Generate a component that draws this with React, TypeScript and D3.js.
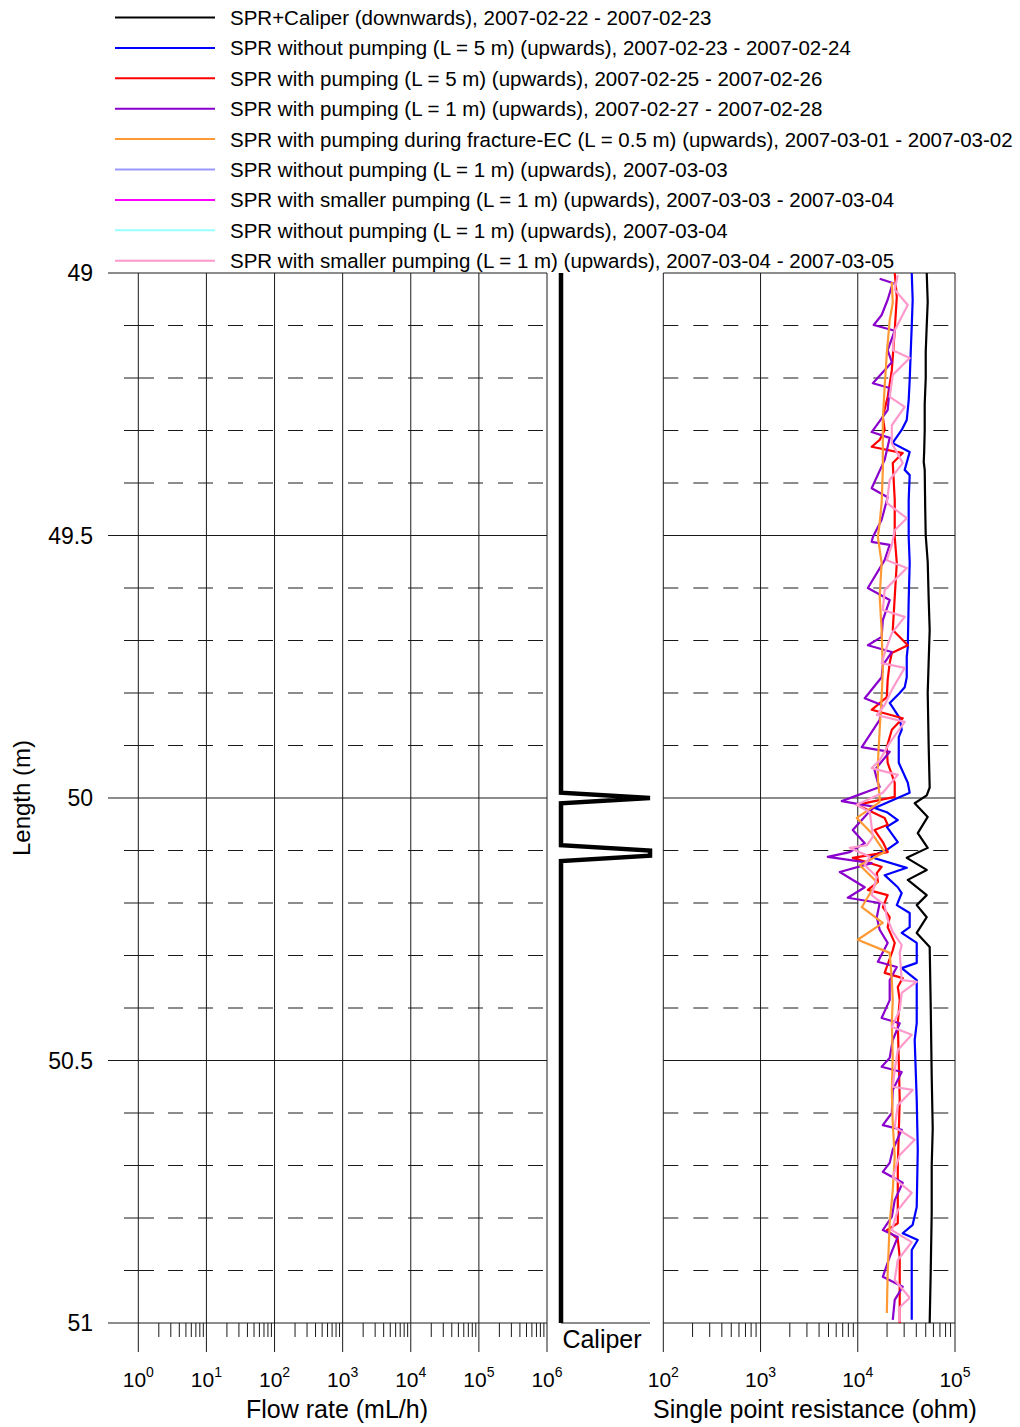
import React from "react";
import * as d3 from "d3";

// legend
const seriesNames = [
  "SPR+Caliper (downwards), 2007-02-22 - 2007-02-23",
  "SPR without pumping (L = 5 m) (upwards), 2007-02-23 - 2007-02-24",
  "SPR with pumping (L = 5 m) (upwards), 2007-02-25 - 2007-02-26",
  "SPR with pumping (L = 1 m) (upwards), 2007-02-27 - 2007-02-28",
  "SPR with pumping during fracture-EC (L = 0.5 m) (upwards), 2007-03-01 - 2007-03-02",
  "SPR without pumping (L = 1 m) (upwards), 2007-03-03",
  "SPR with smaller pumping (L = 1 m) (upwards), 2007-03-03 - 2007-03-04",
  "SPR without pumping (L = 1 m) (upwards), 2007-03-04",
  "SPR with smaller pumping (L = 1 m) (upwards), 2007-03-04 - 2007-03-05",
];
const seriesColors = [
  "#000000", "#0000ff", "#ff0000", "#8a00cc", "#ff9933",
  "#9999ff", "#ff00ff", "#99ffff", "#ff99cc",
];

// [depth (m), single point resistance (ohm)]
const sprCaliper: [number, number][] = [
  [49.0, 51200], [49.055, 52400], [49.1, 51200], [49.15, 50000], [49.2, 50000], [49.25, 48800],
  [49.3, 48800], [49.34, 48200], [49.36, 47700], [49.375, 48800], [49.45, 49400], [49.5, 50000],
  [49.55, 52400], [49.62, 53600], [49.68, 54900], [49.74, 53600], [49.8, 52400], [49.9, 53600],
  [49.98, 54900], [49.995, 51200], [50.01, 38500], [50.036, 52400], [50.067, 41400], [50.095, 52400],
  [50.114, 31900], [50.137, 51200], [50.156, 32700], [50.185, 51200], [50.204, 40400], [50.227, 51200],
  [50.257, 40400], [50.284, 54900], [50.4, 56300], [50.53, 57600], [50.63, 59000], [50.7, 57600],
  [50.79, 57600], [50.9, 56300], [51.0, 54900],
];
const sprNoPump5m: [number, number][] = [
  [49.0, 35900], [49.051, 36700], [49.101, 35900], [49.147, 35100], [49.204, 34200], [49.242, 33400],
  [49.28, 31900], [49.299, 28300], [49.318, 24000], [49.324, 22900], [49.341, 34200], [49.375, 30400],
  [49.385, 34200], [49.432, 33400], [49.503, 33400], [49.552, 34200], [49.623, 33400], [49.712, 32700],
  [49.731, 31900], [49.77, 31900], [49.789, 30400], [49.8, 27000], [49.819, 21300], [49.848, 27000],
  [49.87, 28300], [49.884, 26400], [49.933, 26400], [49.971, 32700], [49.99, 34200], [50.019, 14900],
  [50.027, 19900], [50.042, 25800], [50.055, 19900], [50.084, 25800], [50.099, 19900], [50.112, 13300],
  [50.133, 31900], [50.147, 18900], [50.17, 25800], [50.181, 28300], [50.204, 25200], [50.219, 34200],
  [50.246, 34200], [50.257, 28300], [50.276, 40400], [50.314, 40400], [50.324, 28300], [50.347, 40400],
  [50.385, 40400], [50.429, 40400], [50.461, 38500], [50.575, 40400], [50.67, 41400], [50.779, 40400],
  [50.813, 36700], [50.829, 29000], [50.842, 41400], [50.861, 35900], [50.937, 35900], [50.994, 35900],
];
const sprPump5m: [number, number][] = [
  [49.0, 24000], [49.046, 25200], [49.109, 24000], [49.185, 22400], [49.236, 20300], [49.274, 18100],
  [49.299, 18900], [49.318, 16800], [49.331, 13900], [49.343, 29000], [49.362, 22900], [49.432, 24000],
  [49.503, 24000], [49.552, 25200], [49.617, 24000], [49.68, 22900], [49.709, 32700], [49.724, 22400],
  [49.743, 21300], [49.775, 20300], [49.808, 19900], [49.832, 13900], [49.848, 29000], [49.87, 22400],
  [49.903, 19900], [49.933, 20300], [49.971, 24000], [49.998, 24000], [50.013, 9770], [50.038, 18900],
  [50.051, 20300], [50.061, 14900], [50.084, 18100], [50.103, 20300], [50.114, 8880], [50.131, 17600],
  [50.143, 15700], [50.16, 16100], [50.175, 12700], [50.185, 20300], [50.208, 18100], [50.227, 21300],
  [50.246, 20300], [50.276, 24000], [50.29, 22900], [50.333, 18900], [50.343, 29000], [50.36, 25800],
  [50.385, 27000], [50.429, 25800], [50.5, 26400], [50.575, 27000], [50.7, 25800], [50.81, 25800],
  [50.823, 19900], [50.84, 25800], [50.874, 27000], [51.0, 27000],
];
const sprPump1m: [number, number][] = [
  [49.011, 16800], [49.019, 22900], [49.051, 20300], [49.08, 17600], [49.099, 14600], [49.11, 24000],
  [49.147, 20300], [49.17, 22400], [49.21, 14300], [49.219, 21300], [49.261, 20300], [49.303, 13900],
  [49.314, 21300], [49.356, 18900], [49.41, 13900], [49.427, 20300], [49.47, 17600], [49.503, 14300],
  [49.512, 13900], [49.518, 21300], [49.547, 18900], [49.6, 12700], [49.623, 21300], [49.661, 18100],
  [49.693, 17600], [49.709, 12700], [49.722, 22400], [49.747, 18100], [49.77, 17600], [49.81, 11800],
  [49.823, 17600], [49.851, 16800], [49.903, 11000], [49.912, 21300], [49.947, 14900], [49.971, 16100],
  [49.979, 16800], [50.006, 6850], [50.017, 14900], [50.029, 12700], [50.061, 8880], [50.086, 11800],
  [50.103, 8280], [50.112, 4910], [50.124, 13900], [50.141, 6530], [50.17, 11800], [50.19, 7890],
  [50.2, 16800], [50.227, 15700], [50.251, 16800], [50.276, 20300], [50.312, 16100], [50.322, 25200],
  [50.347, 21300], [50.385, 21300], [50.419, 17600], [50.429, 27000], [50.461, 22900], [50.495, 21300],
  [50.512, 17600], [50.522, 28300], [50.556, 22900], [50.6, 22400], [50.623, 18100], [50.632, 28300],
  [50.67, 22900], [50.695, 21300], [50.712, 18100], [50.733, 29000], [50.766, 24000], [50.798, 22400],
  [50.823, 18100], [50.836, 25800], [50.874, 21300], [50.912, 18100], [50.931, 29000], [50.956, 24000],
  [50.994, 22900],
];
const sprFractureEC: [number, number][] = [
  [49.017, 22400], [49.057, 22900], [49.09, 21300], [49.152, 19900], [49.217, 18900], [49.28, 18100],
  [49.375, 18100], [49.438, 17600], [49.476, 16800], [49.503, 16100], [49.552, 17600], [49.617, 16800],
  [49.68, 17600], [49.756, 18100], [49.808, 17600], [49.87, 16800], [49.933, 16100], [49.966, 16100],
  [49.998, 16800], [50.008, 16800], [50.038, 9770], [50.067, 13900], [50.103, 18900], [50.128, 10500],
  [50.16, 15700], [50.208, 11000], [50.238, 18100], [50.27, 10000], [50.295, 21300], [50.347, 22400],
  [50.385, 22900], [50.429, 22400], [50.493, 22900], [50.556, 22400], [50.619, 22900], [50.684, 24000],
  [50.747, 22900], [50.81, 21300], [50.905, 20300], [50.981, 19900],
];
const sprNoPump1mA: [number, number][] = [];
const sprSmallPump1mA: [number, number][] = [];
const sprNoPump1mB: [number, number][] = [];
const sprSmallPump1mB: [number, number][] = [
  [49.004, 25800], [49.032, 24000], [49.061, 32700], [49.109, 24000], [49.147, 22900], [49.162, 34200],
  [49.194, 22900], [49.236, 21300], [49.255, 30400], [49.29, 22400], [49.324, 22400], [49.362, 29000],
  [49.394, 21300], [49.438, 19900], [49.467, 31900], [49.49, 24000], [49.518, 22400], [49.547, 19900],
  [49.562, 31900], [49.604, 18900], [49.642, 18100], [49.655, 30400], [49.686, 22400], [49.718, 19400],
  [49.743, 17600], [49.752, 30400], [49.794, 22400], [49.823, 18900], [49.842, 15700], [49.855, 30400],
  [49.895, 21300], [49.928, 16800], [49.943, 13900], [49.956, 25800], [49.99, 18100], [50.013, 9770],
  [50.027, 13300], [50.074, 14300], [50.09, 12400], [50.095, 8280], [50.112, 13300], [50.128, 11800],
  [50.15, 15700], [50.185, 13900], [50.204, 18900], [50.227, 19900], [50.255, 22900], [50.28, 28300],
  [50.295, 27000], [50.347, 28300], [50.35, 40400], [50.371, 28300], [50.404, 27000], [50.436, 22400],
  [50.451, 35900], [50.48, 25800], [50.518, 24000], [50.55, 22900], [50.556, 36700], [50.585, 25800],
  [50.627, 24000], [50.651, 38500], [50.68, 27000], [50.722, 22900], [50.752, 35900], [50.785, 25800],
  [50.823, 22400], [50.846, 35900], [50.88, 25800], [50.918, 24000], [50.952, 34200], [50.97, 27000],
  [50.998, 27000],
];
const allSeries = [
  sprCaliper, sprNoPump5m, sprPump5m, sprPump1m, sprFractureEC,
  sprNoPump1mA, sprSmallPump1mA, sprNoPump1mB, sprSmallPump1mB,
];

// [depth (m), caliper (mm)]
const caliper: [number, number][] = [
  [49.0, 76.2], [49.99, 76.2], [50.0, 77.4], [50.01, 76.2], [50.09, 76.2],
  [50.1, 77.4], [50.11, 77.4], [50.12, 76.2], [51.0, 76.2],
];

const depthTicks = [49, 49.5, 50, 50.5, 51];
const depthMinor = [49.1, 49.2, 49.3, 49.4, 49.6, 49.7, 49.8, 49.9, 50.1, 50.2, 50.3, 50.4, 50.6, 50.7, 50.8, 50.9];
const flowExps = [0, 1, 2, 3, 4, 5, 6];
const sprExps = [2, 3, 4, 5];

const FONT = "'Liberation Sans', Arial, sans-serif";
const GRID = "#1a1a1a";

const minorTicks = (exps: number[]) => {
  const out: number[] = [];
  exps.slice(0, -1).forEach((e) => {
    for (let k = 2; k <= 9; k++) out.push(k * Math.pow(10, e));
  });
  return out;
};

export default function App() {
  const y = d3.scaleLinear().domain([49, 51]).range([273, 1323]);
  const flowX = d3.scaleLog().domain([1, 1e6]).range([138.3, 547]);
  const sprX = d3.scaleLog().domain([100, 1e5]).range([663.3, 955]);
  const calX = d3.scaleLinear().domain([76.2, 77.4]).range([561, 650]);

  const sprLine = d3
    .line<[number, number]>()
    .x((d) => sprX(d[1]))
    .y((d) => y(d[0]));
  const calLine = d3
    .line<[number, number]>()
    .x((d) => calX(d[1]))
    .y((d) => y(d[0]));

  const axisBottom = y(51);
  const top = y(49);

  return (
    <svg
      width={1020}
      height={1427}
      style={{ position: "absolute", left: 0, top: 0, background: "#fff" }}
      fontFamily={FONT}
    >
      {/* legend */}
      {seriesNames.map((name, i) => {
        const cy = 17.5 + i * 30.4;
        return (
          <g key={name}>
            <line x1={115} x2={215} y1={cy} y2={cy} stroke={seriesColors[i]} strokeWidth={2} />
            <text x={230} y={cy + 7.5} fontSize={20.5} fill="#000">
              {name}
            </text>
          </g>
        );
      })}

      {/* left panel: flow rate */}
      <g stroke={GRID} strokeWidth={1} fill="none">
        {flowExps.map((e) => (
          <line key={e} x1={flowX(10 ** e)} x2={flowX(10 ** e)} y1={top} y2={axisBottom + 29} />
        ))}
        {depthTicks.map((d) => (
          <line key={d} x1={108} x2={547} y1={y(d)} y2={y(d)} />
        ))}
        {depthMinor.map((d) => (
          <g key={d}>
            <line x1={124} x2={154} y1={y(d)} y2={y(d)} />
            <line x1={168} x2={547} y1={y(d)} y2={y(d)} strokeDasharray="15,15" />
          </g>
        ))}
        {minorTicks(flowExps).map((v) => (
          <line key={v} x1={flowX(v)} x2={flowX(v)} y1={axisBottom} y2={axisBottom + 14} />
        ))}
      </g>
      {flowExps.map((e) => (
        <text key={e} x={flowX(10 ** e)} y={1387} fontSize={21} textAnchor="middle">
          10<tspan dy={-10} fontSize={14}>{e}</tspan>
        </text>
      ))}
      <text x={337} y={1418} fontSize={25} textAnchor="middle">
        Flow rate (mL/h)
      </text>

      {/* depth labels */}
      {depthTicks.map((d) => (
        <text key={d} x={93} y={y(d) + 8} fontSize={23} textAnchor="end">
          {d}
        </text>
      ))}
      <text transform={`translate(30, ${y(50)}) rotate(-90)`} fontSize={24} textAnchor="middle">
        Length (m)
      </text>

      {/* caliper */}
      <path d={calLine(caliper) || ""} fill="none" stroke="#000" strokeWidth={4.5} strokeLinejoin="miter" />
      <line x1={561} x2={650} y1={axisBottom} y2={axisBottom} stroke={GRID} strokeWidth={1.2} />
      <text x={602} y={1348} fontSize={25} textAnchor="middle">
        Caliper
      </text>

      {/* right panel: single point resistance */}
      <g stroke={GRID} strokeWidth={1} fill="none">
        {sprExps.map((e) => (
          <line key={e} x1={sprX(10 ** e)} x2={sprX(10 ** e)} y1={top} y2={axisBottom + 29} />
        ))}
        {depthTicks.map((d) => (
          <line key={d} x1={663.3} x2={955} y1={y(d)} y2={y(d)} />
        ))}
        {depthMinor.map((d) => (
          <line key={d} x1={663.3} x2={955} y1={y(d)} y2={y(d)} strokeDasharray="15,15" />
        ))}
        {minorTicks(sprExps).map((v) => (
          <line key={v} x1={sprX(v)} x2={sprX(v)} y1={axisBottom} y2={axisBottom + 14} />
        ))}
      </g>
      {allSeries.map((s, i) =>
        s.length ? (
          <path
            key={i}
            d={sprLine(s) || ""}
            fill="none"
            stroke={seriesColors[i]}
            strokeWidth={2.2}
            strokeLinejoin="round"
          />
        ) : null
      )}
      {sprExps.map((e) => (
        <text key={e} x={sprX(10 ** e)} y={1387} fontSize={21} textAnchor="middle">
          10<tspan dy={-10} fontSize={14}>{e}</tspan>
        </text>
      ))}
      <text x={815} y={1418} fontSize={25} textAnchor="middle">
        Single point resistance (ohm)
      </text>
    </svg>
  );
}
